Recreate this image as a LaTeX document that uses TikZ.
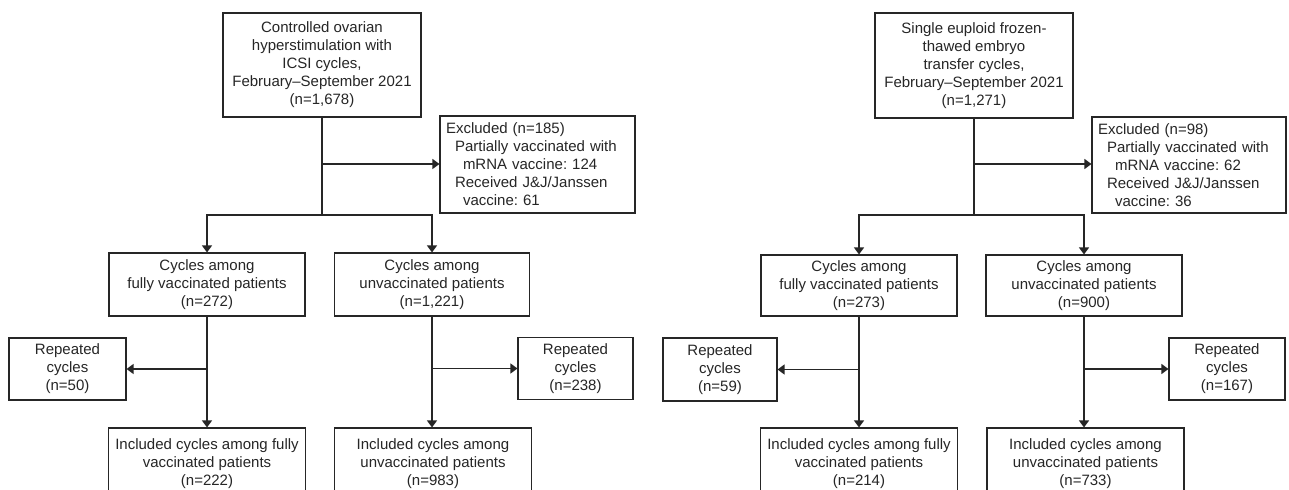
\documentclass[tikz,border=0pt]{standalone}
\usepackage{fontspec}
\setmainfont{Liberation Sans}
\usetikzlibrary{arrows.meta,calc}
\definecolor{ink}{HTML}{262626}
\frenchspacing
\begin{document}
\begin{tikzpicture}[x=1bp,y=-1bp,
  box/.style={draw=ink,line width=1.1bp,text=ink,inner sep=0pt,align=center,
    font=\fontsize{15bp}{18bp}\selectfont\frenchspacing},
  exbox/.style={box,align=left,inner xsep=6bp},
  conn/.style={draw=ink,line width=1.2bp},
  arr/.style={conn,-{Triangle[length=7bp,width=10bp]}}]
\useasboundingbox (0,0) rectangle (1289,490);
\fill[white] (0,0) rectangle (1289,490);
\begin{scope}
\clip (0,0) rectangle (1289,490);
% ---------- left flow ----------
\node[box,minimum width=198bp,minimum height=104bp] (topL) at (322,65)
  {Controlled ovarian\\hyperstimulation with\\ICSI cycles,\\February–September 2021\\(n=1,678)};
\node[exbox,text width=183bp,minimum height=97bp] (exL) at (537.5,164.5)
  {Excluded (n=185)\\\hspace*{9bp}Partially vaccinated with\\\hspace*{17bp}mRNA vaccine: 124\\\hspace*{9bp}Received J\&J/Janssen\\\hspace*{17bp}vaccine: 61};
\node[box,minimum width=196bp,minimum height=63bp] (fvL) at (207,284.5)
  {Cycles among\\fully vaccinated patients\\(n=272)};
\node[box,minimum width=195bp,minimum height=63bp] (uvL) at (432,284.5)
  {Cycles among\\unvaccinated patients\\(n=1,221)};
\node[box,minimum width=117bp,minimum height=62bp] (repL1) at (67.5,369)
  {Repeated\\cycles\\(n=50)};
\node[box,minimum width=115bp,minimum height=62bp] (repL2) at (575.5,368.5)
  {Repeated\\cycles\\(n=238)};
\node[box,minimum width=197bp,minimum height=71bp] (incL1) at (207,463.5)
  {Included cycles among fully\\vaccinated patients\\(n=222)};
\node[box,minimum width=197bp,minimum height=71bp] (incL2) at (433,463.5)
  {Included cycles among\\unvaccinated patients\\(n=983)};
\coordinate (eL) at (322,164);
\coordinate (bL) at (322,215);
\draw[conn] (topL.south) -- (bL);
\draw[arr] (eL) -- (eL -| exL.west);
\draw[arr] (bL) -| (fvL.north);
\draw[arr] (bL) -| (uvL.north);
\coordinate (rL1) at (207,369);
\coordinate (rL2) at (432,368.5);
\draw[arr] (fvL.south) -- (incL1.north);
\draw[arr] (uvL.south) -- (uvL.south |- incL2.north);
\draw[arr] (rL1) -- (repL1.east);
\draw[arr] (rL2) -- (repL2.west);
% ---------- right flow ----------
\node[box,minimum width=198bp,minimum height=105bp] (topR) at (974,65.5)
  {Single euploid frozen-\\thawed embryo\\transfer cycles,\\February–September 2021\\(n=1,271)};
\node[exbox,text width=182bp,minimum height=96bp] (exR) at (1189,165)
  {Excluded (n=98)\\\hspace*{9bp}Partially vaccinated with\\\hspace*{17bp}mRNA vaccine: 62\\\hspace*{9bp}Received J\&J/Janssen\\\hspace*{17bp}vaccine: 36};
\node[box,minimum width=196bp,minimum height=61bp] (fvR) at (859,285.5)
  {Cycles among\\fully vaccinated patients\\(n=273)};
\node[box,minimum width=196bp,minimum height=61bp] (uvR) at (1084,285.5)
  {Cycles among\\unvaccinated patients\\(n=900)};
\node[box,minimum width=114bp,minimum height=63bp] (repR1) at (720,369.5)
  {Repeated\\cycles\\(n=59)};
\node[box,minimum width=116bp,minimum height=62bp] (repR2) at (1227,369)
  {Repeated\\cycles\\(n=167)};
\node[box,minimum width=197bp,minimum height=71bp] (incR1) at (859,463.5)
  {Included cycles among fully\\vaccinated patients\\(n=214)};
\node[box,minimum width=197bp,minimum height=71bp] (incR2) at (1085.5,463.5)
  {Included cycles among\\unvaccinated patients\\(n=733)};
\coordinate (eR) at (974,164);
\coordinate (bR) at (974,215);
\draw[conn] (topR.south) -- (bR);
\draw[arr] (eR) -- (eR -| exR.west);
\draw[arr] (bR) -| (fvR.north);
\draw[arr] (bR) -| (uvR.north);
\coordinate (rR1) at (859,369.5);
\coordinate (rR2) at (1084,369);
\draw[arr] (fvR.south) -- (incR1.north);
\draw[arr] (uvR.south) -- (uvR.south |- incR2.north);
\draw[arr] (rR1) -- (repR1.east);
\draw[arr] (rR2) -- (repR2.west);
\end{scope}
\end{tikzpicture}
\end{document}
